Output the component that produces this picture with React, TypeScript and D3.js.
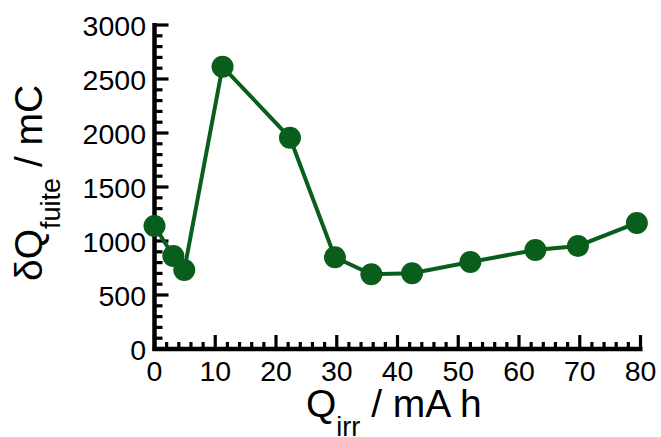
import React from "react";
import * as d3 from "d3";

const qIrr = [0, 3.1, 4.9, 11.2, 22.3, 29.7, 35.7, 42.4, 52.0, 62.7, 69.7, 79.4];
const dQfuite = [1139, 861, 731, 2614, 1956, 849, 692, 701, 806, 917, 954, 1167];
const xTicks = [0, 10, 20, 30, 40, 50, 60, 70, 80];
const yTicks = [0, 500, 1000, 1500, 2000, 2500, 3000];

const W = 661;
const H = 437;
const GREEN = "#0a5e1c";
const FONT = "'Liberation Sans', Arial, Helvetica, sans-serif";

export default function App() {
  const x = d3.scaleLinear().domain([0, 80]).range([154.5, 640.5]);
  const y = d3.scaleLinear().domain([0, 3000]).range([349, 25]);
  const xMinor = d3.range(0, 80.001, 2).filter((v) => v % 10 !== 0);
  const yMinor = d3.range(0, 3000.001, 100).filter((v) => v % 500 !== 0);
  const line = d3
    .line<number>()
    .x((_, i) => x(qIrr[i]))
    .y((d) => y(d));

  return (
    <div style={{ position: "absolute", left: 0, top: 0 }}>
      <svg width={W} height={H} style={{ display: "block", background: "#fff" }} fontFamily={FONT}>
        {/* y axis */}
        <line x1={x(0)} x2={x(0)} y1={y(3000) - 2} y2={y(0) + 2} stroke="#000" strokeWidth={4.5} />
        {yTicks.map((t) => (
          <line key={"ym" + t} x1={x(0)} x2={x(0) + 14} y1={y(t)} y2={y(t)} stroke="#000" strokeWidth={3.2} />
        ))}
        {yMinor.map((t) => (
          <line key={"yn" + t} x1={x(0)} x2={x(0) + 8} y1={y(t)} y2={y(t)} stroke="#000" strokeWidth={3.2} />
        ))}
        {yTicks.map((t) => (
          <text key={"yl" + t} x={146} y={y(t) + 11} textAnchor="end" fontSize={28.5} fill="#000">
            {t}
          </text>
        ))}
        {/* x axis */}
        <line x1={x(0) - 2} x2={x(80) + 2} y1={y(0)} y2={y(0)} stroke="#000" strokeWidth={4.5} />
        {xTicks.map((t) => (
          <line key={"xm" + t} x1={x(t)} x2={x(t)} y1={y(0)} y2={y(0) - 14} stroke="#000" strokeWidth={3.2} />
        ))}
        {xMinor.map((t) => (
          <line key={"xn" + t} x1={x(t)} x2={x(t)} y1={y(0)} y2={y(0) - 7} stroke="#000" strokeWidth={3.2} />
        ))}
        {xTicks.map((t) => (
          <text key={"xl" + t} x={x(t)} y={381} textAnchor="middle" fontSize={28.5} fill="#000">
            {t}
          </text>
        ))}
        {/* data */}
        <path d={line(dQfuite) || ""} fill="none" stroke={GREEN} strokeWidth={4} />
        {dQfuite.map((v, i) => (
          <circle key={"p" + i} cx={x(qIrr[i])} cy={y(v)} r={11} fill={GREEN} />
        ))}
        {/* x title */}
        <text x={306} y={417} fontSize={39} fill="#000">
          <tspan>Q</tspan>
          <tspan dy={19} fontSize={27}>irr</tspan>
          <tspan dy={-19}>{"\u00a0/ mA h"}</tspan>
        </text>
        {/* y title */}
        <text transform="translate(42,281) rotate(-90)" fontSize={39} fill="#000">
          <tspan>δQ</tspan>
          <tspan dy={18} fontSize={27}>fuite</tspan>
          <tspan dy={-18}>{"\u00a0/ mC"}</tspan>
        </text>
      </svg>
    </div>
  );
}
